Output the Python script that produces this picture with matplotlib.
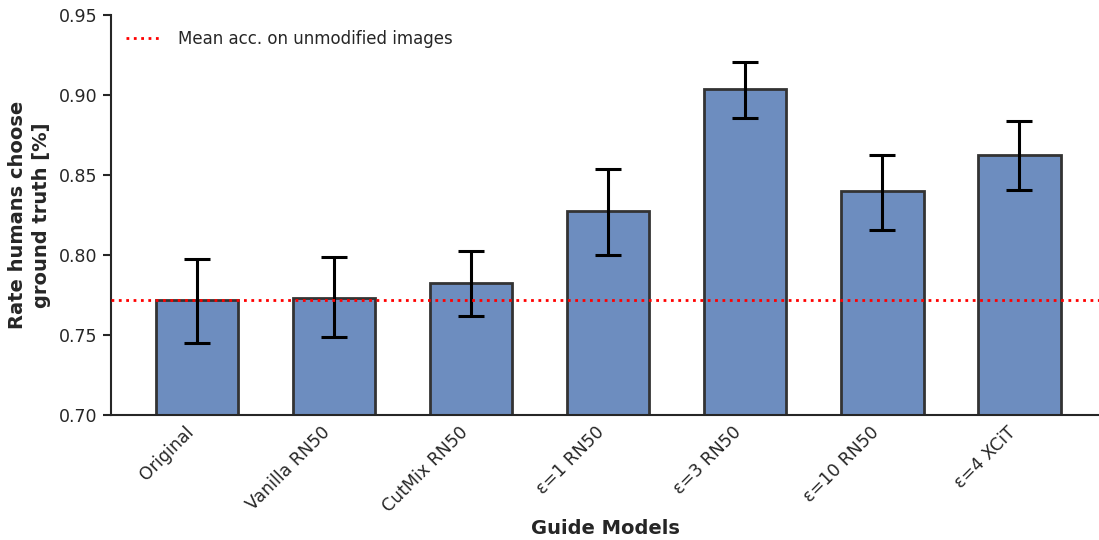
import numpy as np
import matplotlib
matplotlib.use("Agg")
import matplotlib.pyplot as plt

models = ["Original", "Vanilla RN50", "CutMix RN50", "ε=1 RN50", "ε=3 RN50", "ε=10 RN50", "ε=4 XCiT"]
rate = [0.7717, 0.7734, 0.7823, 0.8273, 0.9037, 0.8402, 0.8625]
err_lo = [0.7450, 0.7485, 0.7618, 0.7999, 0.8855, 0.8158, 0.8404]
err_hi = [0.7977, 0.7987, 0.8024, 0.8535, 0.9204, 0.8626, 0.8836]
mean_unmod = 0.7717

plt.rcParams["font.family"] = ["DejaVu Sans"]
txt = "#262626"

fig = plt.figure(figsize=(10.99, 5.4), dpi=100)
ax = fig.add_axes([0.101, 0.2315, 0.899, 0.7405])

x = np.arange(len(models))
r = np.array(rate)
yerr = np.vstack([r - np.array(err_lo), np.array(err_hi) - r])
ax.bar(x, r - 0.70, bottom=0.70, width=0.6, color="#6d8dbf", edgecolor="#333333", linewidth=2, zorder=2)
ax.errorbar(x, r, yerr=yerr, fmt="none", ecolor="black", elinewidth=2.2, capsize=9.5, capthick=2.2, zorder=3)
ax.axhline(mean_unmod, color="red", linestyle=":", linewidth=2, label="Mean acc. on unmodified images", zorder=4)

ax.set_ylim(0.70, 0.95)
ax.set_xlim(-0.628, 6.58)
ax.set_yticks([0.70, 0.75, 0.80, 0.85, 0.90, 0.95])
ax.set_xticks(x)
ax.set_xticklabels(models, rotation=45, ha="right", fontsize=12.5, color=txt)
ax.tick_params(axis="y", labelsize=12.5, colors=txt, width=1.5, length=6)
ax.tick_params(axis="x", length=0, pad=6)
for s in ["top", "right"]:
    ax.spines[s].set_visible(False)
for s in ["left", "bottom"]:
    ax.spines[s].set_linewidth(1.5)
    ax.spines[s].set_color(txt)

ax.set_ylabel("Rate humans choose\nground truth [%]", fontsize=14, fontweight="bold", color=txt, linespacing=1.3, labelpad=6)
ax.set_xlabel("Guide Models", fontsize=14, fontweight="bold", color=txt)
ax.xaxis.set_label_coords(0.5, -0.26)
ax.legend(loc="upper left", frameon=False, fontsize=12, labelcolor=txt, handlelength=2.0,
          handletextpad=1.1, borderaxespad=0.5)

fig.savefig("out.png", dpi=100)
